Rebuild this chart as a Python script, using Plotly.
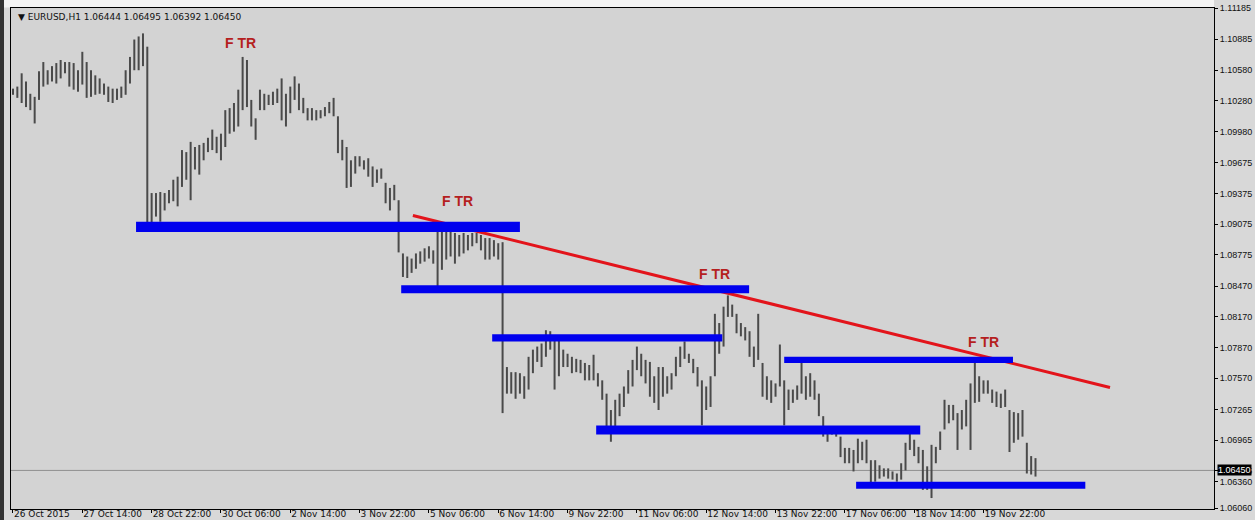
import plotly.graph_objects as go

# EURUSD H1 chart, bars sampled every 2 hours (index = bar number)
bar_high = [
    1.1040, 1.1042, 1.1055, 1.1047, 1.1035, 1.1032, 1.1057, 1.1066, 1.1058, 1.1062,
    1.1065, 1.1068, 1.1066, 1.1066, 1.1065, 1.1058, 1.1076, 1.1066, 1.1058, 1.1053,
    1.1050, 1.1045, 1.1042, 1.1040, 1.1040, 1.1042, 1.1058, 1.1071, 1.1088, 1.1091,
    1.1094, 1.1081, 1.0938, 1.0938, 1.0939, 1.0938, 1.0941, 1.0951, 1.0954, 1.0980,
    1.0978, 1.0988, 1.0983, 1.0985, 1.0987, 1.0992, 1.1000, 1.0993, 1.0996, 1.1019,
    1.1021, 1.1026, 1.1039, 1.1071, 1.1068, 1.1029, 1.1011, 1.1039, 1.1035, 1.1034,
    1.1037, 1.1040, 1.1050, 1.1035, 1.1042, 1.1052, 1.1045, 1.1031, 1.1021, 1.1021,
    1.1019, 1.1019, 1.1022, 1.1027, 1.1031, 1.1013, 1.0990, 1.0983, 1.0970, 1.0974,
    1.0974, 1.0970, 1.0972, 1.0964, 1.0961, 1.0962, 1.0948, 1.0943, 1.0946, 1.0931,
    1.0879, 1.0876, 1.0874, 1.0879, 1.0881, 1.0884, 1.0886, 1.0882, 1.0900, 1.0900,
    1.0902, 1.0904, 1.0899, 1.0897, 1.0899, 1.0897, 1.0899, 1.0899, 1.0897, 1.0894,
    1.0894, 1.0892, 1.0889, 1.0890, 1.0768, 1.0763, 1.0763, 1.0762, 1.0759, 1.0778,
    1.0785, 1.0788, 1.0791, 1.0804, 1.0803, 1.0794, 1.0794, 1.0785, 1.0781, 1.0778,
    1.0776, 1.0775, 1.0772, 1.0770, 1.0780, 1.0762, 1.0755, 1.0742, 1.0726, 1.0736,
    1.0742, 1.0749, 1.0765, 1.0775, 1.0788, 1.0781, 1.0775, 1.0773, 1.0759, 1.0768,
    1.0768, 1.0759, 1.0762, 1.0778, 1.0788, 1.0793, 1.0781, 1.0776, 1.0768, 1.0755,
    1.0749, 1.0759, 1.0820, 1.0811, 1.0827, 1.0838, 1.0829, 1.0820, 1.0811, 1.0807,
    1.0803, 1.0788, 1.0820, 1.0772, 1.0759, 1.0755, 1.0752, 1.0790, 1.0755, 1.0746,
    1.0746, 1.0750, 1.0772, 1.0759, 1.0762, 1.0755, 1.0742, 1.0720, 1.0710, 1.0708,
    1.0708, 1.0700, 1.0689, 1.0689, 1.0687, 1.0698, 1.0695, 1.0697, 1.0677, 1.0677,
    1.0672, 1.0669, 1.0669, 1.0666, 1.0664, 1.0674, 1.0694, 1.0710, 1.0697, 1.0690,
    1.0687, 1.0671, 1.0692, 1.0690, 1.0705, 1.0736, 1.0731, 1.0731, 1.0723, 1.0726,
    1.0736, 1.0752, 1.0772, 1.0759, 1.0755, 1.0755, 1.0746, 1.0744, 1.0742, 1.0746,
    1.0726, 1.0724, 1.0723, 1.0726, 1.0694, 1.0681, 1.0679,
]
bar_low = [
    1.1034, 1.1031, 1.1026, 1.1022, 1.1019, 1.1006, 1.1029, 1.1042, 1.1044, 1.1047,
    1.1045, 1.1050, 1.1055, 1.1042, 1.1039, 1.1037, 1.1044, 1.1031, 1.1032, 1.1034,
    1.1035, 1.1034, 1.1027, 1.1026, 1.1029, 1.1031, 1.1034, 1.1045, 1.1058, 1.1058,
    1.1062, 1.0908, 1.0908, 1.0915, 1.0910, 1.0921, 1.0928, 1.0930, 1.0925, 1.0944,
    1.0951, 1.0931, 1.0961, 1.0956, 1.0970, 1.0978, 1.0980, 1.0977, 1.0970, 1.0983,
    1.0996, 1.0998, 1.1003, 1.1019, 1.1022, 1.1003, 1.0990, 1.1019, 1.1019, 1.1024,
    1.1024, 1.1026, 1.1009, 1.1003, 1.1016, 1.1029, 1.1019, 1.1016, 1.1009, 1.1009,
    1.1009, 1.1011, 1.1013, 1.1016, 1.1013, 1.0977, 1.0970, 1.0943, 1.0944, 1.0957,
    1.0964, 1.0961, 1.0954, 1.0944, 1.0948, 1.0952, 1.0928, 1.0921, 1.0931, 1.0880,
    1.0856, 1.0855, 1.0860, 1.0864, 1.0869, 1.0871, 1.0874, 1.0869, 1.0847, 1.0863,
    1.0873, 1.0876, 1.0869, 1.0876, 1.0879, 1.0882, 1.0886, 1.0889, 1.0882, 1.0873,
    1.0873, 1.0876, 1.0873, 1.0723, 1.0742, 1.0742, 1.0737, 1.0742, 1.0737, 1.0746,
    1.0762, 1.0773, 1.0768, 1.0778, 1.0785, 1.0746, 1.0759, 1.0768, 1.0768, 1.0762,
    1.0763, 1.0762, 1.0755, 1.0755, 1.0755, 1.0749, 1.0736, 1.0710, 1.0695, 1.0710,
    1.0720, 1.0729, 1.0742, 1.0749, 1.0765, 1.0759, 1.0752, 1.0739, 1.0733, 1.0726,
    1.0739, 1.0742, 1.0746, 1.0759, 1.0768, 1.0776, 1.0772, 1.0762, 1.0749, 1.0711,
    1.0726, 1.0729, 1.0759, 1.0781, 1.0788, 1.0817, 1.0817, 1.0801, 1.0798, 1.0794,
    1.0778, 1.0768, 1.0775, 1.0739, 1.0736, 1.0733, 1.0739, 1.0749, 1.0711, 1.0726,
    1.0733, 1.0736, 1.0742, 1.0736, 1.0739, 1.0736, 1.0720, 1.0700, 1.0695, 1.0702,
    1.0700, 1.0680, 1.0674, 1.0674, 1.0666, 1.0674, 1.0677, 1.0674, 1.0654, 1.0656,
    1.0659, 1.0661, 1.0659, 1.0658, 1.0656, 1.0658, 1.0667, 1.0687, 1.0681, 1.0674,
    1.0648, 1.0648, 1.0640, 1.0674, 1.0687, 1.0707, 1.0713, 1.0716, 1.0687, 1.0707,
    1.0710, 1.0687, 1.0733, 1.0734, 1.0742, 1.0742, 1.0733, 1.0729, 1.0728, 1.0729,
    1.0685, 1.0694, 1.0697, 1.0700, 1.0664, 1.0663, 1.0661,
]
last_close = 1.0667
header_text = "▼ EURUSD,H1 1.06444 1.06495 1.06392 1.06450"
close_label = "1.06450"

# time axis labels (one every 32 hours = 16 two-hour bars)
time_labels = ["26 Oct 2015", "27 Oct 14:00", "28 Oct 22:00", "30 Oct 06:00", "2 Nov 14:00",
               "3 Nov 22:00", "5 Nov 06:00", "6 Nov 14:00", "9 Nov 22:00", "11 Nov 06:00",
               "12 Nov 14:00", "13 Nov 22:00", "17 Nov 06:00", "18 Nov 14:00", "19 Nov 22:00"]
time_label_bars = [0, 16, 32, 48, 64, 80, 96, 112, 128, 144, 160, 176, 192, 208, 224]

# price scale
price_tick_vals = [1.11185, 1.10885, 1.10580, 1.10280, 1.09980, 1.09675, 1.09375, 1.09075,
                   1.08775, 1.08470, 1.08170, 1.07870, 1.07570, 1.07265, 1.06965, 1.06665,
                   1.06560, 1.06300]
price_tick_text = ["1.11185", "1.10885", "1.10580", "1.10280", "1.09980", "1.09675", "1.09375",
                   "1.09075", "1.08775", "1.08470", "1.08170", "1.07870", "1.07570", "1.07265",
                   "1.06965", "1.06665", "1.06360", "1.06060"]

# blue support / resistance zones
zone_start = [28.4, 89.6, 110.6, 178.0, 134.6, 194.6]
zone_end = [117.0, 169.9, 163.7, 230.8, 209.4, 247.5]
zone_low = [1.0900, 1.0840, 1.0793, 1.0772, 1.0702, 1.0649]
zone_high = [1.0910, 1.0848, 1.0800, 1.0778, 1.0711, 1.0656]

# red trend line
trend_x = [92.3, 253.2]
trend_y = [1.0916, 1.0748]

# FTR marks
ftr_x = [52.6, 102.5, 162.0, 224.1]
ftr_y = [1.1085, 1.0930, 1.0859, 1.0792]

seg_x, seg_y = [], []
for i, (h, l) in enumerate(zip(bar_high, bar_low)):
    seg_x += [i, i, None]
    seg_y += [l, h, None]

fig = go.Figure()

for x0, x1, y0, y1 in zip(zone_start, zone_end, zone_low, zone_high):
    fig.add_shape(type="rect", x0=x0, x1=x1, y0=y0, y1=y1, xref="x", yref="y",
                  fillcolor="#0000ee", line=dict(width=0), layer="above")

fig.add_shape(type="line", xref="paper", x0=0, x1=1, yref="y", y0=last_close, y1=last_close,
              line=dict(color="#8f8f8f", width=1), layer="below")

fig.add_trace(go.Scatter(x=seg_x, y=seg_y, mode="lines",
                         line=dict(color="#4a4a4a", width=2), hoverinfo="skip"))

fig.add_trace(go.Scatter(x=trend_x, y=trend_y, mode="lines",
                         line=dict(color="#e3141b", width=3), hoverinfo="skip"))

for x, y in zip(ftr_x, ftr_y):
    fig.add_annotation(x=x, y=y, text="<b>F TR</b>", showarrow=False,
                       font=dict(family="Liberation Sans", size=14, color="#b51f1f"))

fig.add_annotation(xref="paper", yref="paper", x=0.004, y=1, xanchor="left", yanchor="top",
                   yshift=-2, text=header_text, showarrow=False,
                   font=dict(family="DejaVu Sans", size=9, color="#111"))

fig.add_annotation(xref="paper", yref="y", x=1, y=last_close, xanchor="left", xshift=3,
                   text=close_label, showarrow=False, bgcolor="#000", borderpad=0,
                   font=dict(family="Liberation Sans", size=9, color="#fff"))

# dark frame strip at the left edge and light strip above the chart
fig.add_shape(type="rect", xref="paper", yref="paper", x0=-11 / 1203, x1=-7 / 1203, y0=-0.03,
              y1=1.02, fillcolor="#333", line=dict(width=0))
fig.add_shape(type="rect", xref="paper", yref="paper", x0=-7 / 1203, x1=1, y0=1.001,
              y1=1.02, fillcolor="#f4f4f4", line=dict(width=0), layer="below")

fig.update_layout(
    width=1255, height=520,
    margin=dict(l=11, r=41, t=8, b=11),
    paper_bgcolor="#d8d8d8", plot_bgcolor="#d3d3d3",
    showlegend=False,
    font=dict(family="DejaVu Sans", size=9, color="#111"),
    xaxis=dict(range=[-0.46, 277.2], tickvals=time_label_bars, ticktext=time_labels,
               ticks="outside", ticklen=3, tickcolor="#000", ticklabelposition="outside right",
               ticklabelstandoff=-4, tickangle=0,
               showgrid=False, zeroline=False, showline=True, linecolor="#000", mirror=True,
               automargin=False, tickfont=dict(size=9)),
    yaxis=dict(range=[1.06293, 1.11188], side="right", tickvals=price_tick_vals,
               ticktext=price_tick_text, ticks="outside", ticklen=3, tickcolor="#000",
               showgrid=False, zeroline=False, showline=True, linecolor="#000", mirror=True,
               automargin=False, tickfont=dict(family="Liberation Sans", size=9)),
)

# the page body has a default 8px margin; remove it so the figure fills the window
fig.write_html("out.html", config={"displayModeBar": False},
               post_script="document.body.style.margin='0';document.body.style.overflow='hidden';")
